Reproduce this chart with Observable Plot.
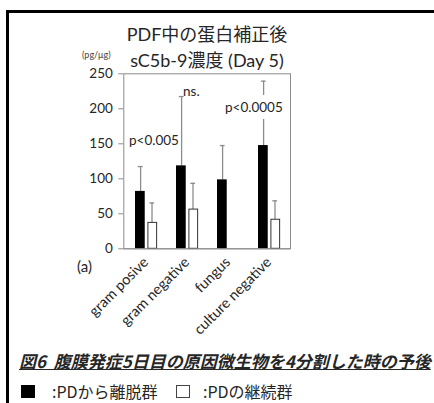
<!DOCTYPE html>
<html>
<head>
<meta charset="utf-8">
<script src="https://cdn.jsdelivr.net/npm/d3@7"></script>
<script src="https://cdn.jsdelivr.net/npm/@observablehq/plot@0.6"></script>
<style>
  html, body { margin: 0; padding: 0; background: #fff; }
  #wrap { position: relative; width: 434px; height: 403px; overflow: hidden; font-family: Lato, "Noto Sans CJK JP", sans-serif; color: #262626; }
  #frame { position: absolute; left: 6px; top: 10px; width: 500px; height: 500px; border-left: 3px solid #000; border-top: 3px solid #000; }
  #chart { position: absolute; left: 0; top: 0; }
  .abs { position: absolute; white-space: nowrap; }
  #title { left: 0; width: 414px; top: 21px; text-align: center; font-size: 18px; line-height: 26px; font-family: Lato, "Noto Sans CJK JP", sans-serif; }
  #unit { left: 82px; top: 49px; font-size: 9px; color: #444; }
  #panel { left: 77px; top: 257px; font-size: 15px; }
  #caption { left: 19px; top: 349px; font-size: 17px; line-height: 24px; font-weight: bold; font-style: italic; text-decoration: underline; font-family: "Noto Sans CJK JP", sans-serif; letter-spacing: 0px; }
  .sw { position: absolute; width: 14px; height: 13px; box-sizing: border-box; top: 385px; }
  .leg { position: absolute; top: 380px; font-size: 16px; line-height: 23px; font-family: "Noto Sans CJK JP", sans-serif; }
</style>
</head>
<body>
<div id="wrap">
  <div id="frame"></div>
  <div id="chart"></div>
  <div class="abs" id="title">PDF中の蛋白補正後<br>sC5b-9濃度 (Day 5)</div>
  <div class="abs" id="unit">(pg/μg)</div>
  <div class="abs" id="panel">(a)</div>
  <div class="abs" id="caption">図6&nbsp; 腹膜発症5日目の原因微生物を4分割した時の予後</div>
  <div class="sw" style="left:21px; background:#000;"></div>
  <div class="leg" style="left:52px;">:PDから離脱群</div>
  <div class="sw" style="left:176px; border:1px solid #444; background:#fff;"></div>
  <div class="leg" style="left:203px;">:PDの継続群</div>
</div>
<script>
const categories = ["gram posive", "gram negative", "fungus", "culture negative"];
const withdrawnMean = [82, 118.5, 98.5, 147.5];
const withdrawnSD   = [35.5, 99, 49, 92];
const continuedMean = [37, 56, null, 41.5];
const continuedSD   = [28.5, 37.5, null, 27];
const yTicks = [0, 50, 100, 150, 200, 250];
const annotations = ["p<0.005", "ns.", "p<0.0005"];
const annotationCat = ["gram posive", "gram negative", "culture negative"];
const annotationY = [155, 225, 202];

const black = categories.map((c, i) => ({cat: c, v: withdrawnMean[i], top: withdrawnMean[i] + withdrawnSD[i]}));
const white = categories.map((c, i) => ({cat: c, v: continuedMean[i], top: continuedMean[i] == null ? null : continuedMean[i] + continuedSD[i]})).filter(d => d.v != null);
const notes = annotations.map((t, i) => ({t, cat: annotationCat[i], y: annotationY[i]}));

const W = 434, H = 345;
const mL = 123.3, mR = W - 290, mT = 73.3, yZero = 248.3;
const bw = (290 - mL) / 4;
const errColor = "#8c8c8c";
const noteDx = [-17, -4, -44];

const chart = Plot.plot({
  width: W, height: H,
  marginLeft: mL, marginRight: mR, marginTop: mT, marginBottom: H - yZero,
  style: {fontFamily: "Lato, sans-serif", fontSize: "13px", color: "#262626", background: "transparent"},
  x: {domain: categories, padding: 0, type: "band"},
  y: {domain: [0, 250]},
  marks: [
    Plot.frame({stroke: "#8c8c8c"}),
    Plot.ruleX(black, {x: "cat", y1: "v", y2: "top", stroke: errColor, strokeWidth: 1.3, dx: -5.4}),
    Plot.tickY(black, {x: "cat", y: "top", stroke: errColor, strokeWidth: 1.3, insetLeft: 12.8, insetRight: bw - 18.3}),
    Plot.ruleX(white, {x: "cat", y1: "v", y2: "top", stroke: errColor, strokeWidth: 1.3, dx: 6}),
    Plot.tickY(white, {x: "cat", y: "top", stroke: errColor, strokeWidth: 1.3, insetLeft: 24.3, insetRight: bw - 29.8}),
    Plot.barY(black, {x: "cat", y: "v", fill: "#000", insetLeft: 10, insetRight: bw - 20.4}),
    Plot.barY(white, {x: "cat", y: "v", fill: "#fff", stroke: "#333", strokeWidth: 1, insetLeft: 22.9, insetRight: bw - 32.3}),
    Plot.text([notes[0]], {x: "cat", y: "y", text: "t", textAnchor: "start", dx: noteDx[0], fill: "#262626", fontSize: 13.5}),
    Plot.text([notes[1]], {x: "cat", y: "y", text: "t", textAnchor: "start", dx: noteDx[1], fill: "#262626", fontSize: 13.5}),
    Plot.text([notes[2]], {x: "cat", y: "y", text: "t", textAnchor: "start", dx: noteDx[2], fill: "#262626", fontSize: 13.5, stroke: "#fff", strokeWidth: 14, paintOrder: "stroke"}),
    Plot.axisY({ticks: yTicks, tickSize: 5, tickPadding: 6, stroke: "#8c8c8c", fontSize: 13.5, tickFormat: d => d, label: null, color: "#262626"}),
    Plot.axisX({tickRotate: -45, tickSize: 0, tickPadding: 11, fontSize: 14.5, label: null, color: "#262626"}),
    Plot.ruleY([0], {stroke: "#8c8c8c"})
  ]
});

document.getElementById("chart").appendChild(chart);
</script>
</body>
</html>
